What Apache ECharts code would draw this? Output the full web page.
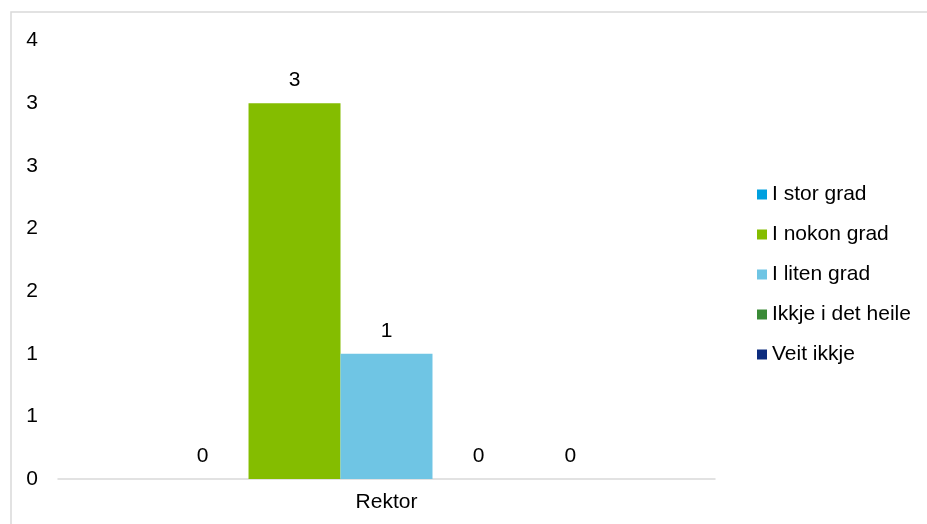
<!DOCTYPE html>
<html>
<head>
<meta charset="utf-8">
<script src="https://cdn.jsdelivr.net/npm/echarts@6/dist/echarts.min.js"></script>
<style>html,body{margin:0;padding:0;background:#fff;}#c{width:927px;height:524px;}</style>
</head>
<body>
<div id="c"></div>
<script>
const categories = ['Rektor'];
const seriesNames = ['I stor grad', 'I nokon grad', 'I liten grad', 'Ikkje i det heile', 'Veit ikkje'];
const seriesValues = [[0], [3], [1], [0], [0]];
const seriesColors = ['#00a0df', '#84bd00', '#6fc5e4', '#3a8b37', '#0c2c7e'];

const chart = echarts.init(document.getElementById('c'));
const font = 'Liberation Sans, Arial, sans-serif';
chart.setOption({
  animation: false,
  graphic: [{
    type: 'rect', shape: { x: 11, y: 12, width: 940, height: 540 },
    style: { fill: 'none', stroke: '#d9d9d9', lineWidth: 1.5 }, silent: true
  }],
  grid: { left: 58, right: 212, top: 40.5, bottom: 45 },
  legend: {
    orient: 'vertical', left: 752, top: 179,
    itemWidth: 10, itemHeight: 10, itemGap: 19, icon: 'rect',
    textStyle: { fontFamily: font, fontSize: 21, color: '#000', padding: [0, 0, 0, 0] },
    data: seriesNames
  },
  xAxis: {
    type: 'category', data: categories,
    axisLine: { lineStyle: { color: '#d9d9d9', width: 1.5 } },
    axisTick: { show: false },
    axisLabel: { fontFamily: font, fontSize: 21, color: '#000', margin: 13 }
  },
  yAxis: {
    type: 'value', min: 0, max: 3.5, interval: 0.5,
    splitLine: { show: false }, axisLine: { show: false }, axisTick: { show: false },
    axisLabel: { fontFamily: font, fontSize: 21, color: '#000', margin: 20,
      formatter: v => String(Math.round(v)) }
  },
  series: seriesNames.map((n, i) => ({
    name: n, type: 'bar', data: seriesValues[i],
    barGap: '0%', barCategoryGap: '30%',
    itemStyle: { color: seriesColors[i] },
    label: { show: true, position: 'top', distance: 12, fontFamily: font, fontSize: 21, color: '#000' }
  }))
});
</script>
</body>
</html>
